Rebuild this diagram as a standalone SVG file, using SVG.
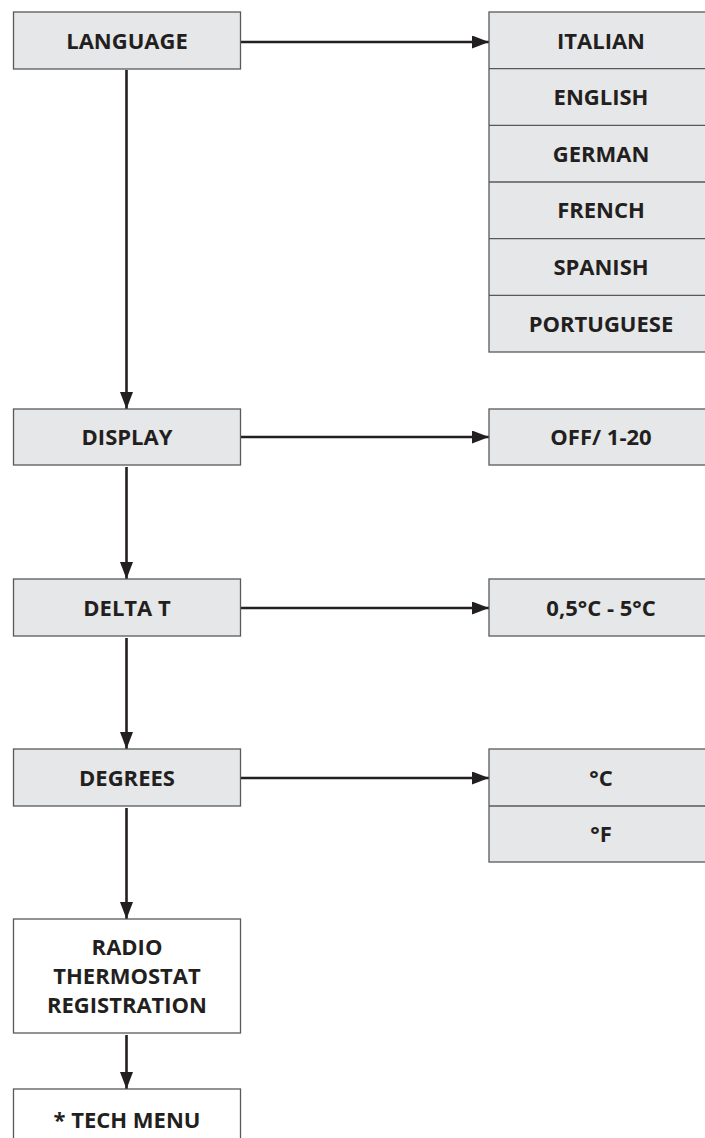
<svg xmlns="http://www.w3.org/2000/svg" width="705" height="1138" viewBox="0 0 705 1138">
<defs>
<style>
.box{fill:#e6e7e8;stroke:#58595b;stroke-width:1.3}
.wbox{fill:#ffffff;stroke:#58595b;stroke-width:1.3}
.sep{stroke:#58595b;stroke-width:1.3;fill:none}
.t{font-family:"Open Sans","Liberation Sans",sans-serif;font-weight:700;font-size:22px;fill:#231f20;text-anchor:middle}
.c{stroke:#231f20;stroke-width:2.6;fill:none}
</style>
<marker id="ah" viewBox="0 0 17 13" refX="17" refY="6.5" markerWidth="17" markerHeight="13" markerUnits="userSpaceOnUse" orient="auto">
<path d="M0,0 L17,6.5 L0,13 Z" fill="#231f20"/>
</marker>
</defs>
<rect width="705" height="1138" fill="#ffffff"/>

<g id="connectors">
<line class="c" x1="241" y1="42" x2="489" y2="42" marker-end="url(#ah)"/>
<line class="c" x1="126.5" y1="70" x2="126.5" y2="409" marker-end="url(#ah)"/>
<line class="c" x1="241" y1="437" x2="489" y2="437" marker-end="url(#ah)"/>
<line class="c" x1="126.5" y1="467" x2="126.5" y2="579" marker-end="url(#ah)"/>
<line class="c" x1="241" y1="608" x2="489" y2="608" marker-end="url(#ah)"/>
<line class="c" x1="126.5" y1="638" x2="126.5" y2="749" marker-end="url(#ah)"/>
<line class="c" x1="241" y1="778" x2="489" y2="778" marker-end="url(#ah)"/>
<line class="c" x1="126.5" y1="808" x2="126.5" y2="919" marker-end="url(#ah)"/>
<line class="c" x1="126.5" y1="1035" x2="126.5" y2="1089" marker-end="url(#ah)"/>
</g>

<g id="language">
<rect class="box" x="13.5" y="12" width="227" height="57"/>
<text class="t" x="127" y="48.5">LANGUAGE</text>
</g>

<g id="language-options">
<rect class="box" x="489" y="12" width="230" height="340"/>
<line class="sep" x1="489" y1="68.7" x2="719" y2="68.7"/>
<line class="sep" x1="489" y1="125.3" x2="719" y2="125.3"/>
<line class="sep" x1="489" y1="182" x2="719" y2="182"/>
<line class="sep" x1="489" y1="238.7" x2="719" y2="238.7"/>
<line class="sep" x1="489" y1="295.3" x2="719" y2="295.3"/>
<text class="t" x="601" y="48.5">ITALIAN</text>
<text class="t" x="601" y="105">ENGLISH</text>
<text class="t" x="601" y="161.7">GERMAN</text>
<text class="t" x="601" y="218.3">FRENCH</text>
<text class="t" x="601" y="275">SPANISH</text>
<text class="t" x="601" y="331.7">PORTUGUESE</text>
</g>

<g id="display">
<rect class="box" x="13.5" y="409" width="227" height="56"/>
<text class="t" x="127" y="445">DISPLAY</text>
</g>
<g id="display-options">
<rect class="box" x="489" y="409" width="230" height="56"/>
<text class="t" x="601" y="445">OFF/ 1-20</text>
</g>

<g id="delta-t">
<rect class="box" x="13.5" y="579" width="227" height="57"/>
<text class="t" x="127" y="615.5">DELTA T</text>
</g>
<g id="delta-t-options">
<rect class="box" x="489" y="579" width="230" height="57"/>
<text class="t" x="601" y="615.5">0,5°C - 5°C</text>
</g>

<g id="degrees">
<rect class="box" x="13.5" y="749" width="227" height="57"/>
<text class="t" x="127" y="785.5">DEGREES</text>
</g>
<g id="degrees-options">
<rect class="box" x="489" y="749" width="230" height="113"/>
<line class="sep" x1="489" y1="806" x2="719" y2="806"/>
<text class="t" x="601" y="785.5">°C</text>
<text class="t" x="601" y="842">°F</text>
</g>

<g id="radio">
<rect class="wbox" x="13.5" y="919" width="227" height="114"/>
<text class="t" x="127" y="955">RADIO</text>
<text class="t" x="127" y="984">THERMOSTAT</text>
<text class="t" x="127" y="1013">REGISTRATION</text>
</g>

<g id="tech-menu">
<rect class="wbox" x="13.5" y="1089" width="227" height="70"/>
<text class="t" x="127" y="1128">* TECH MENU</text>
</g>
</svg>
